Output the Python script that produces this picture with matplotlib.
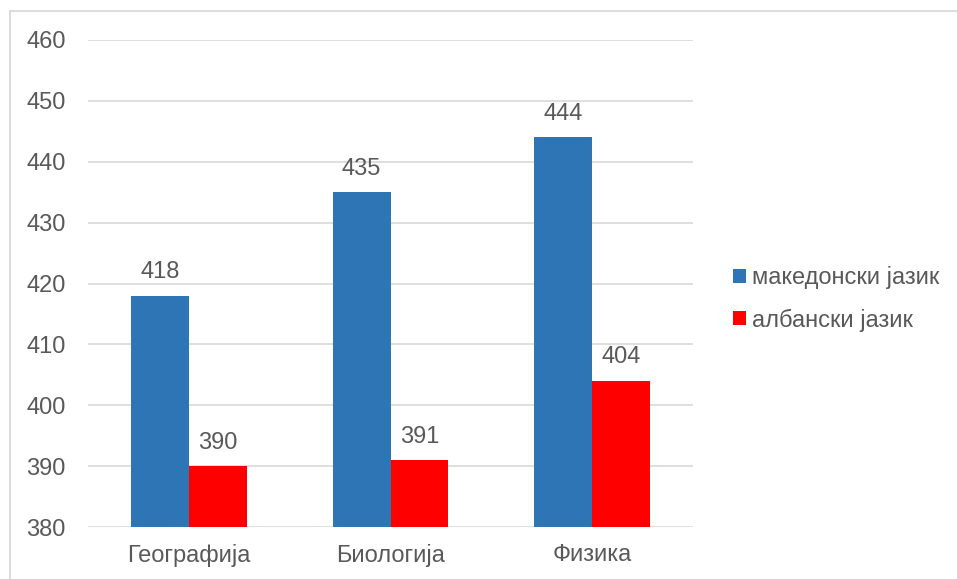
import matplotlib.pyplot as plt
import numpy as np
from matplotlib.patches import Patch
from matplotlib.lines import Line2D

subjects = ["Географија", "Биологија", "Физика"]
macedonian = [418, 435, 444]
albanian = [390, 391, 404]
series_names = ["македонски јазик", "албански јазик"]
yticks = [380, 390, 400, 410, 420, 430, 440, 450, 460]

BLUE = "#2E75B6"
RED = "#FF0000"
TEXT = "#595959"
GRID = "#D9D9D9"
FS = 17

plt.rcParams["font.family"] = ["Liberation Sans", "DejaVu Sans"]

fig = plt.figure(figsize=(9.57, 5.79), dpi=100)
ax = fig.add_axes([88 / 957, 52 / 579, 605 / 957, 487 / 579])

x = np.arange(len(subjects))
w = 0.287
b1 = ax.bar(x - w / 2, np.array(macedonian) - 380, w, bottom=380, color=BLUE, zorder=3)
b2 = ax.bar(x + w / 2, np.array(albanian) - 380, w, bottom=380, color=RED, zorder=3)

for bars, vals in ((b1, macedonian), (b2, albanian)):
    for rect, v in zip(bars, vals):
        ax.annotate(str(v), (rect.get_x() + rect.get_width() / 2, v),
                    xytext=(0, 9), textcoords="offset points",
                    ha="center", va="bottom", fontsize=FS, color=TEXT)

ax.set_xlim(-0.5, len(subjects) - 0.5)
ax.set_ylim(380, 460)
ax.set_yticks(yticks)
ax.yaxis.grid(True, color=GRID, linewidth=1.2, zorder=0)
ax.set_axisbelow(True)
ax.set_xticks(x)
ax.set_xticklabels(subjects)
for s in ax.spines.values():
    s.set_visible(False)
ax.tick_params(axis="both", length=0, labelsize=FS, colors=TEXT)
ax.tick_params(axis="y", pad=16)
ax.tick_params(axis="x", pad=12)

handles = [Patch(facecolor=BLUE), Patch(facecolor=RED)]
fig.legend(handles, series_names, loc="center left",
           bbox_to_anchor=(733 / 957, (579 - 299) / 579),
           frameon=False, fontsize=FS, labelcolor=TEXT,
           handlelength=0.55, handleheight=0.55, handletextpad=0.25,
           labelspacing=0.8, borderpad=0, borderaxespad=0)

# thin frame around the chart area
fig.add_artist(Line2D([9.5 / 957, 1.0], [1 - 10.5 / 579] * 2,
                      transform=fig.transFigure, color=GRID, linewidth=1.3))
fig.add_artist(Line2D([9.5 / 957] * 2, [0.0, 1 - 10.5 / 579],
                      transform=fig.transFigure, color=GRID, linewidth=1.3))

fig.savefig("out.png", dpi=100)
